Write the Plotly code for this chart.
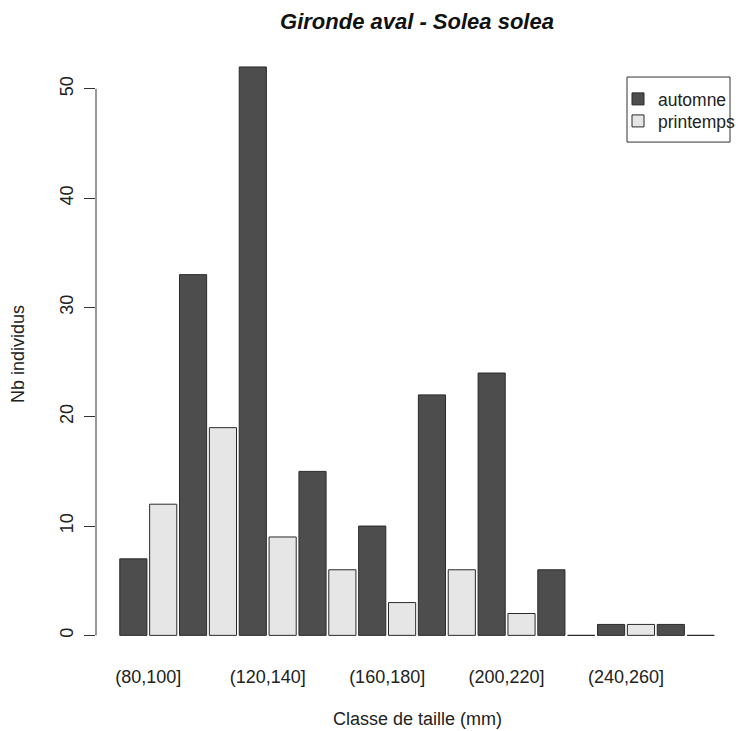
import plotly.graph_objects as go

classes = ["(80,100]", "(100,120]", "(120,140]", "(140,160]", "(160,180]",
           "(180,200]", "(200,220]", "(220,240]", "(240,260]", "(260,280]"]
automne = [7, 33, 52, 15, 10, 22, 24, 6, 1, 1]
printemps = [12, 19, 9, 6, 3, 6, 2, 0, 1, 0]
y_ticks = [0, 10, 20, 30, 40, 50]
x_tick_labels = classes[::2]

# page body has an 8px margin: work in page pixels, convert to figure pixels
OFF = 8
W, H = 755, 731
PL, PR, PT, PB = 96, 738, 44, 663.6   # plot area in page pixels
ML, MR, MT, MB = PL - OFF, W - (PR - OFF), PT - OFF, H - (PB - OFF)
pw = W - ML - MR
ph = H - MT - MB

def px_x(p):
    return (p - PL) / pw

def px_y(p):
    return (PB - p) / ph

FONT = "Liberation Sans, Arial, Helvetica, sans-serif"

fig = go.Figure()
fig.add_trace(go.Bar(x=classes, y=automne, name="automne", legend="legend",
                     marker=dict(color="#4d4d4d", line=dict(color="#2a2a2a", width=1))))
fig.add_trace(go.Bar(x=classes, y=printemps, name="printemps", legend="legend2",
                     marker=dict(color="#e6e6e6", line=dict(color="#2a2a2a", width=1))))

leg_common = dict(xanchor="left", yanchor="top", bgcolor="rgba(0,0,0,0)",
                  borderwidth=0, font=dict(size=17.5, color="#222"))

fig.update_layout(
    width=W, height=H, autosize=False,
    margin=dict(l=ML, r=MR, t=MT, b=MB),
    paper_bgcolor="white", plot_bgcolor="white",
    font=dict(family=FONT, size=18, color="#222"),
    barmode="group", bargap=0, bargroupgap=0.1 / 1.1,
    title=dict(text="Gironde aval - Solea solea", x=0.5, xref="paper", xanchor="center",
               y=1 - (21 - OFF) / H, yref="container", yanchor="middle",
               font=dict(family=FONT, size=22, color="#111", weight="bold", style="italic")),
    showlegend=True,
    legend=dict(x=px_x(618), y=px_y(81), **leg_common),
    legend2=dict(x=px_x(618), y=px_y(103), **leg_common),
    xaxis=dict(type="category", categoryorder="array", categoryarray=classes,
               range=[-0.8755, 9.875], tickvals=x_tick_labels, ticktext=x_tick_labels,
               ticks="", showline=False, showgrid=False, zeroline=False,
               tickfont=dict(size=18)),
    yaxis=dict(range=[-2.62, 54.1], tickvals=y_ticks, ticks="outside", ticklen=11,
               tickwidth=1, tickcolor="#333", tickangle=-90, showline=False,
               showgrid=False, zeroline=False, tickfont=dict(size=18),
               ticklabelstandoff=4),
    shapes=[
        dict(type="line", xref="paper", yref="y", x0=0, x1=0,
             y0=y_ticks[0], y1=y_ticks[-1], line=dict(color="#333", width=1)),
        dict(type="rect", xref="paper", yref="paper",
             x0=px_x(627), x1=px_x(730), y0=px_y(142), y1=px_y(77),
             line=dict(color="#333", width=1), fillcolor="rgba(0,0,0,0)"),
    ],
    annotations=[
        dict(text="Classe de taille (mm)", xref="paper", yref="paper",
             x=0.5, y=px_y(719), xanchor="center", yanchor="middle",
             showarrow=False, font=dict(size=18)),
        dict(text="Nb individus", xref="paper", yref="paper",
             x=px_x(18), y=0.5, xanchor="center", yanchor="middle",
             textangle=-90, showarrow=False, font=dict(size=18)),
    ],
)

fig.write_html("out.html")
